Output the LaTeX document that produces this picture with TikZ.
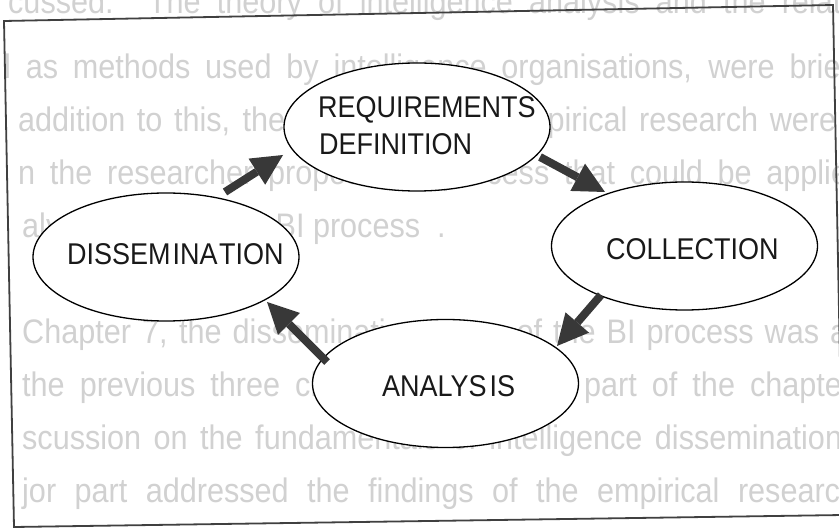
\documentclass[tikz,border=0pt]{standalone}
\usepackage{fontspec}
\setmainfont{Liberation Sans}
\newfontfamily\stagefont[FakeStretch=0.9]{Liberation Sans}
\usetikzlibrary{arrows.meta,shapes.geometric}

\tikzset{
  stage/.style={ellipse, draw=black, line width=1.3pt, fill=white,
    minimum width=266pt, minimum height=128pt, inner sep=0pt},
  stagelabel/.style={anchor=base west, inner sep=0pt, text=black!90,
    font=\stagefont\fontsize{30}{36}\selectfont},
  flow/.style={draw=black!78, line width=8pt,
    -{Triangle[length=31pt,width=31pt,line width=0pt]}},
  frame/.style={draw=black!75, line width=1.8pt, line join=miter},
  ghost/.style={anchor=base west, inner sep=0pt, text=black!18,
    font=\stagefont\fontsize{34}{40}\selectfont},
}

\begin{document}
\begin{tikzpicture}[x=1pt,y=-1pt]
  \useasboundingbox (0,0) rectangle (839,529);
  \clip (0,0) rectangle (839,529);
  \fill[white] (0,0) rectangle (839,529);

  % text of the page showing through the paper
  \node[ghost] (g1) at (8,14)   {\makebox[840pt][s]{cussed. The theory of intelligence analysis and the relati}};
  \node[ghost] (g2) at (4,79)   {\makebox[845pt][s]{l as methods used by intelligence organisations, were brief}};
  \node[ghost] (g3) at (18,132) {\makebox[818pt][s]{addition to this, the findings of the empirical research were}};
  \node[ghost] (g4) at (18,185) {\makebox[830pt][s]{n the researcher proposed a process that could be applie}};
  \node[ghost] (g5) at (22,238) {alysis stage of the BI process \ .};
  \node[ghost] (g6) at (22,344) {\makebox[825pt][s]{Chapter 7, the dissemination stage of the BI process was a}};
  \node[ghost] (g7) at (22,397) {\makebox[830pt][s]{the previous three chapters. The first part of the chapter}};
  \node[ghost] (g8) at (22,450) {\makebox[820pt][s]{scussion on the fundamentals of intelligence dissemination}};
  \node[ghost] (g9) at (22,503) {\makebox[835pt][s]{jor part addressed the findings of the empirical research}};

  % outer frame, slightly skewed
  \draw[frame] (4,21) -- (833,5) -- (843,515) -- (14,527) -- cycle;

  % the four stages of the cycle
  \node[stage] (req)  at (417,127)   {};
  \node[stage] (coll) at (684.5,246) {};
  \node[stage] (ana)  at (445.5,383.5) {};
  \node[stage] (diss) at (166,257)   {};

  \node[stagelabel] (reqa)  at (318,118) {REQUIREMENTS};
  \node[stagelabel] (reqb)  at (319,155) {DEFINITION};
  \node[stagelabel] (collt) at (606,260) {COLLECTION};
  \node[stagelabel] (anat)  at (382,397) {ANALYS\kern3pt IS};
  \node[stagelabel] (disst) at (67,265)  {DISSEM\kern2pt INA\kern1.5pt TION};

  % arrows between the stages
  \draw[flow] ([shift={(59,-65)}]diss.center)   -- ([shift={(-134,28)}]req.center);
  \draw[flow] ([shift={(123,30)}]req.center)    -- ([shift={(-79.5,-54)}]coll.center);
  \draw[flow] ([shift={(-83.5,49)}]coll.center) -- ([shift={(111.5,-37.5)}]ana.center);
  \draw[flow] ([shift={(-118.5,-21.5)}]ana.center) -- ([shift={(101,45)}]diss.center);
\end{tikzpicture}
\end{document}
